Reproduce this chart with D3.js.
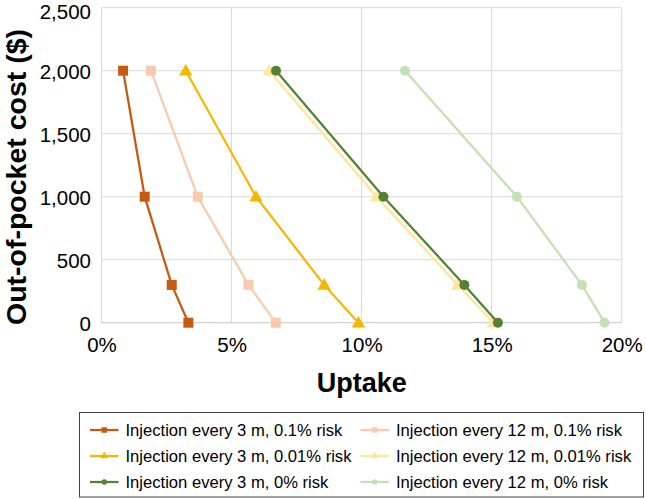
<!DOCTYPE html>
<html>
<head>
<meta charset="utf-8">
<script src="https://cdn.jsdelivr.net/npm/d3@7/dist/d3.min.js"></script>
<style>
  html, body { margin: 0; padding: 0; background: #fff; }
  svg { display: block; font-family: "Liberation Sans", Arial, sans-serif; }
</style>
</head>
<body>
<svg id="chart" width="646" height="499"></svg>
<script>
// ---- Data ----
const costs = [2000, 1000, 300, 0];
const uptake3m01 = [0.83, 1.66, 2.70, 3.34];
const uptake12m01 = [1.90, 3.70, 5.65, 6.70];
const uptake3m001 = [3.24, 5.94, 8.56, 9.88];
const uptake12m001 = [6.45, 10.58, 13.70, 15.07];
const uptake3m0 = [6.71, 10.84, 13.95, 15.24];
const uptake12m0 = [11.67, 15.97, 18.47, 19.34];
const seriesNames = [
  "Injection every 3 m, 0.1% risk",
  "Injection every 12 m, 0.1% risk",
  "Injection every 3 m, 0.01% risk",
  "Injection every 12 m, 0.01% risk",
  "Injection every 3 m, 0% risk",
  "Injection every 12 m, 0% risk"
];
const xTicks = [0, 5, 10, 15, 20];
const yTicks = [0, 500, 1000, 1500, 2000, 2500];
const xTitle = "Uptake";
const yTitle = "Out-of-pocket cost ($)";

const seriesValues = [uptake3m01, uptake12m01, uptake3m001, uptake12m001, uptake3m0, uptake12m0];
const colors = ["#C55A11", "#F8CBAD", "#F5B800", "#FFE699", "#548235", "#C5E0B4"];
const shapes = ["square", "square", "triangle", "triangle", "circle", "circle"];

const series = seriesNames.map((name, i) => ({
  name, color: colors[i], shape: shapes[i],
  points: costs.map((c, j) => ({ x: seriesValues[i][j], y: c }))
}));

// ---- Layout ----
const svg = d3.select("#chart");
const x = d3.scaleLinear().domain([0, 20]).range([101.5, 621.7]);
const y = d3.scaleLinear().domain([0, 2500]).range([322.7, 7.7]);

// gridlines
const grid = svg.append("g");
grid.selectAll("line.v").data(xTicks).join("line")
  .attr("x1", d => x(d)).attr("x2", d => x(d))
  .attr("y1", y(2500)).attr("y2", y(0))
  .attr("stroke", "#d9d9d9").attr("stroke-width", 1);
grid.selectAll("line.h").data(yTicks).join("line")
  .attr("x1", x(0)).attr("x2", x(20))
  .attr("y1", d => y(d)).attr("y2", d => y(d))
  .attr("stroke", d => d === 0 ? "#c8c8c8" : "#d9d9d9").attr("stroke-width", 1);

// axes
const xAxis = svg.append("g").attr("transform", `translate(0,${y(0)})`)
  .call(d3.axisBottom(x).tickValues(xTicks).tickSize(0).tickPadding(15).tickFormat(d => d + "%"));
const yAxis = svg.append("g").attr("transform", `translate(${x(0)},0)`)
  .call(d3.axisLeft(y).tickValues(yTicks).tickSize(0).tickPadding(10.5).tickFormat(d3.format(",")));
[xAxis, yAxis].forEach(a => {
  a.select(".domain").remove();
  a.selectAll("text").attr("font-size", "20.5px").attr("fill", "#000")
    .attr("font-family", "'Liberation Sans', Arial, sans-serif");
});
// keep the top y label inside the picture (as in the reference)
yAxis.selectAll(".tick text").attr("dy", d => d === 2500 ? "0.52em" : "0.37em");

// titles
svg.append("text").attr("x", 361.7).attr("y", 392).attr("text-anchor", "middle")
  .attr("font-weight", "bold").attr("font-size", "27px").text(xTitle);
svg.append("text").attr("transform", "translate(26,177) rotate(-90)").attr("text-anchor", "middle")
  .attr("font-weight", "bold").attr("font-size", "28.5px").text(yTitle);

// marker helper
function marker(g, shape, color, size) {
  let sym;
  if (shape === "square") sym = d3.symbol(d3.symbolSquare, size * size);
  else if (shape === "circle") sym = d3.symbol(d3.symbolCircle, Math.PI * (size / 2) * (size / 2));
  else sym = d3.symbol(d3.symbolTriangle, size * size * 0.55);
  return g.append("path").attr("d", sym()).attr("fill", color);
}

// series
const line = d3.line().x(d => x(d.x)).y(d => y(d.y));
series.forEach(s => {
  const g = svg.append("g");
  g.append("path").datum(s.points).attr("d", line)
    .attr("fill", "none").attr("stroke", s.color).attr("stroke-width", 2.25);
  s.points.forEach(p => {
    const sz = s.shape === "triangle" ? 12 : 10;
    marker(g, s.shape, s.color, sz)
      .attr("transform", `translate(${x(p.x)},${y(p.y) + (s.shape === "triangle" ? 1 : 0)})`);
  });
});

// legend
const lg = svg.append("g");
lg.append("rect").attr("x", 79.5).attr("y", 412.5).attr("width", 564).attr("height", 84.5)
  .attr("fill", "#fff").attr("stroke", "#404040").attr("stroke-width", 1);
const colX = [90, 360.5];
const rowY = [430, 456, 482];
series.forEach((s, i) => {
  const cx = colX[i % 2], cy = rowY[Math.floor(i / 2)];
  const item = lg.append("g");
  item.append("line").attr("x1", cx).attr("x2", cx + 28.5).attr("y1", cy).attr("y2", cy)
    .attr("stroke", s.color).attr("stroke-width", 2.25);
  marker(item, s.shape, s.color, s.shape === "triangle" ? 7 : 5.5)
    .attr("transform", `translate(${cx + 14.25},${cy})`);
  item.append("text").attr("x", cx + 35.5).attr("y", cy).attr("dy", "0.35em")
    .attr("font-size", "16.6px").attr("fill", "#000").text(s.name);
});
</script>
</body>
</html>
